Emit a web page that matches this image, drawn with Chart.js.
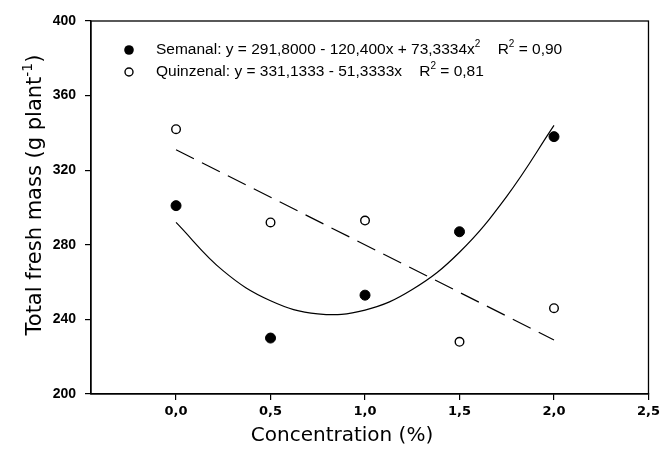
<!DOCTYPE html>
<html>
<head>
<meta charset="utf-8">
<script src="https://cdn.jsdelivr.net/npm/chart.js@4/dist/chart.umd.min.js"></script>
<style>
  html, body { margin: 0; padding: 0; background: #fff; }
</style>
</head>
<body>
<canvas id="grafico" width="664" height="456"></canvas>
<script>
const concentracao = [0, 0.5, 1.0, 1.5, 2.0];
const semanal = [301, 230, 253, 287, 338];
const quinzenal = [342, 292, 293, 228, 246];

// curvas ajustadas
const ajusteSemanalX = [0, 0.25, 0.5, 0.75, 1.0, 1.25, 1.5, 1.75, 2.0];
const ajusteSemanalY = [292, 266, 250, 243, 245, 256, 276, 306, 344];
const ajusteQuinzenalX = [0, 2.0];
const ajusteQuinzenalY = [331, 229];

const xTicks = [0, 0.5, 1.0, 1.5, 2.0, 2.5];
const yTicks = [200, 240, 280, 320, 360, 400];

// [texto, sobrescrito]
const legendaSemanal = [["Semanal: y = 291,8000 - 120,400x + 73,3334x", false], ["2", true], ["    R", false], ["2", true], [" = 0,90", false]];
const legendaQuinzenal = [["Quinzenal: y = 331,1333 - 51,3333x    R", false], ["2", true], [" = 0,81", false]];
const tituloX = [["Concentration (%)", false]];
const tituloY = [["Total fresh mass (g plant", false], ["-1", true], [")", false]];

const pares = (xs, ys) => xs.map((x, i) => ({ x: x, y: ys[i] }));

// desenha texto com sobrescritos; alinhamento: "left" ou "center"
function textoRico(ctx, partes, x, y, tam, familia, alinhamento) {
    const fN = tam + "px " + familia;
    const fS = Math.round(tam * 0.65) + "px " + familia;
    let w = 0;
    partes.forEach(([t, sup]) => { ctx.font = sup ? fS : fN; w += ctx.measureText(t).width; });
    let cx = alinhamento === "center" ? x - w / 2 : x;
    ctx.textAlign = "left";
    ctx.textBaseline = "middle";
    partes.forEach(([t, sup]) => {
        ctx.font = sup ? fS : fN;
        ctx.fillText(t, cx, sup ? y - tam * 0.38 : y);
        cx += ctx.measureText(t).width;
    });
}

const extras = {
    id: "extras",
    afterDraw(chart) {
        const ctx = chart.ctx;
        const a = chart.chartArea;
        ctx.save();
        ctx.strokeStyle = "#000";
        ctx.lineWidth = 1.3;
        ctx.strokeRect(a.left, a.top, a.right - a.left, a.bottom - a.top);

        // legenda
        ctx.fillStyle = "#000";
        ctx.beginPath();
        ctx.arc(129, 50, 4.8, 0, Math.PI * 2);
        ctx.fill();
        ctx.beginPath();
        ctx.arc(129, 72, 4, 0, Math.PI * 2);
        ctx.lineWidth = 1.4;
        ctx.stroke();

        const fam = "'Liberation Sans', Arial, sans-serif";
        textoRico(ctx, legendaSemanal, 156, 50, 15.5, fam, "left");
        textoRico(ctx, legendaQuinzenal, 156, 72, 15.5, fam, "left");

        // titulos dos eixos
        const famT = "'DejaVu Sans', sans-serif";
        textoRico(ctx, tituloX, 342, 436, 20, famT, "center");
        ctx.translate(36, 195);
        ctx.rotate(-Math.PI / 2);
        textoRico(ctx, tituloY, 0, 0, 21, famT, "center");
        ctx.restore();
    }
};

new Chart(document.getElementById("grafico"), {
    type: "scatter",
    data: {
        datasets: [
            {
                label: "Semanal",
                data: pares(concentracao, semanal),
                pointRadius: 5,
                backgroundColor: "#000",
                borderColor: "#000",
                borderWidth: 1
            },
            {
                label: "Quinzenal",
                data: pares(concentracao, quinzenal),
                pointRadius: 4.3,
                backgroundColor: "#fff",
                borderColor: "#000",
                borderWidth: 1.4
            },
            {
                label: "Ajuste semanal",
                data: pares(ajusteSemanalX, ajusteSemanalY),
                showLine: true,
                pointRadius: 0,
                borderColor: "#000",
                borderWidth: 1.2,
                tension: 0.4
            },
            {
                label: "Ajuste quinzenal",
                data: pares(ajusteQuinzenalX, ajusteQuinzenalY),
                showLine: true,
                pointRadius: 0,
                borderColor: "#000",
                borderWidth: 1.2,
                borderDash: [20, 9]
            }
        ]
    },
    options: {
        responsive: false,
        animation: false,
        devicePixelRatio: 1,
        layout: { padding: { left: 0, top: 21, right: 13, bottom: 0 } },
        plugins: {
            legend: { display: false },
            tooltip: { enabled: false }
        },
        scales: {
            x: {
                type: "linear",
                min: -0.45,
                max: 2.5,
                afterBuildTicks: s => { s.ticks = xTicks.map(v => ({ value: v })); },
                afterFit: s => { s.height = 62; },
                ticks: {
                    callback: v => v.toFixed(1).replace(".", ","),
                    font: { family: "'DejaVu Sans', sans-serif", weight: "bold", size: 13 },
                    color: "#000",
                    padding: 4,
                    maxRotation: 0,
                    autoSkip: false
                },
                grid: { drawOnChartArea: false, color: "#000", tickLength: 6, lineWidth: 1.2 },
                border: { color: "#000", width: 1.3 }
            },
            y: {
                min: 200,
                max: 400,
                afterBuildTicks: s => { s.ticks = yTicks.map(v => ({ value: v })); },
                afterFit: s => { s.width = 91; },
                ticks: {
                    font: { family: "'Liberation Sans', Arial, sans-serif", weight: "bold", size: 14 },
                    color: "#000",
                    padding: 9,
                    autoSkip: false
                },
                grid: { drawOnChartArea: false, color: "#000", tickLength: 6, lineWidth: 1.2 },
                border: { color: "#000", width: 1.3 }
            }
        }
    },
    plugins: [extras]
});
</script>
</body>
</html>
